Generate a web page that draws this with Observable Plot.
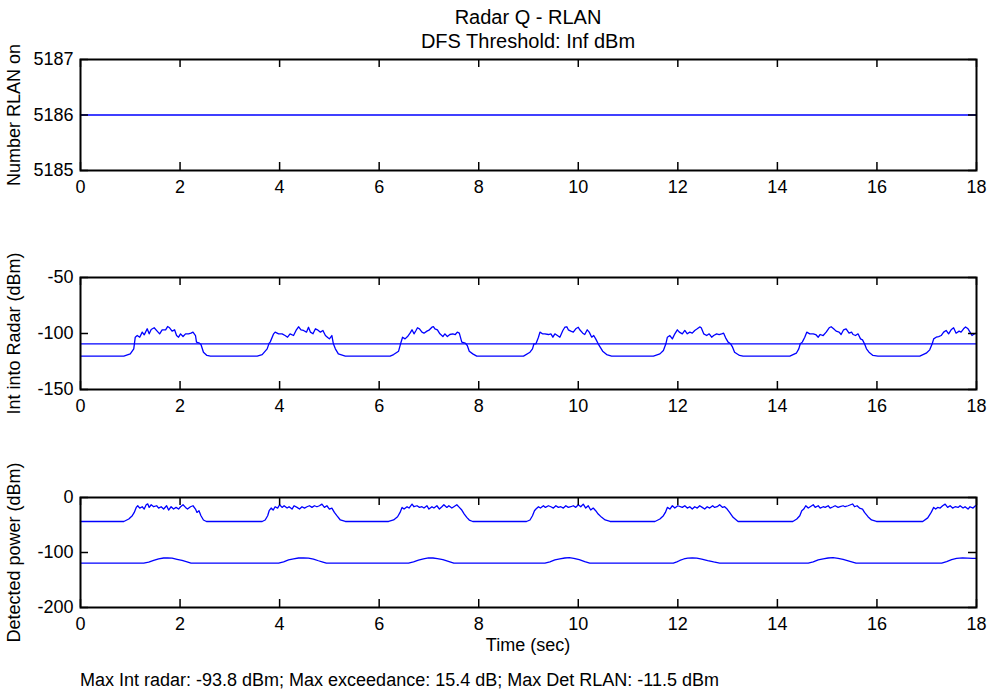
<!DOCTYPE html>
<html>
<head>
<meta charset="utf-8">
<script src="https://cdn.jsdelivr.net/npm/d3@7"></script>
<script src="https://cdn.jsdelivr.net/npm/@observablehq/plot@0.6"></script>
<style>
  body { margin: 0; background: #fff; }
  #fig { position: relative; width: 992px; height: 695px; overflow: hidden;
         font-family: "Liberation Sans", Arial, sans-serif; color: #000; background: #fff; }
  .txt { position: absolute; white-space: nowrap; font-size: 18px; line-height: 18px; }
  .title { font-size: 20px; line-height: 20px; }
  .ctr { transform: translateX(-50%); }
  .panel { position: absolute; left: 0; }
</style>
</head>
<body>
<div id="fig">
  <div class="txt title ctr" style="left:528px; top:7px;">Radar Q - RLAN</div>
  <div class="txt title ctr" style="left:528px; top:31px;">DFS Threshold: Inf dBm</div>
  <div class="txt ctr" style="left:528px; top:636px;">Time (sec)</div>
  <div class="txt" style="left:80px; top:671px;">Max Int radar: -93.8 dBm; Max exceedance: 15.4 dB; Max Det RLAN: -11.5 dBm</div>
</div>
<script>
// time axis ticks (sec)
const timeTicks = [0, 2, 4, 6, 8, 10, 12, 14, 16, 18];

// panel 1: number of RLANs on
const rlanTicks = [5185, 5186, 5187];
const rlanOn = [[0, 5186], [18, 5186]];

// panel 2: interference into the radar (dBm) and the DFS threshold line
const intTicks = [-150, -100, -50];
const dfsThreshold = -109.2;
const intoRadar = [
  [0,-120.2],[0.87,-120.2],[1.00,-118.2],[1.07,-113.7],[1.10,-103.3],[1.14,-101.8],[1.19,-103.3],[1.24,-98.8],[1.28,-101.2],[1.34,-95.8],[1.38,-100.3],[1.42,-96.4],[1.48,-94.9],[1.54,-97.9],[1.59,-100.3],[1.64,-96.7],[1.71,-96.7],[1.75,-93.8],[1.79,-94.9],[1.84,-97.9],[1.89,-96.7],[1.93,-101.8],[1.97,-103.3],[2.01,-100.3],[2.06,-102.7],[2.11,-100.3],[2.17,-100.3],[2.22,-99.7],[2.26,-98.8],[2.31,-101.8],[2.33,-107.7],[2.39,-108.6],[2.42,-109.8],[2.47,-116.7],[2.54,-119.6],[2.61,-120.2],
  [3.55,-120.2],[3.65,-118.8],[3.75,-113.7],[3.79,-108.6],[3.81,-107.7],[3.88,-100.3],[3.91,-98.8],[3.98,-100.3],[4.05,-100.3],[4.11,-101.8],[4.16,-103.3],[4.21,-100.3],[4.28,-101.8],[4.33,-97.3],[4.38,-94.0],[4.43,-96.7],[4.48,-97.3],[4.54,-98.8],[4.58,-94.4],[4.62,-98.8],[4.67,-100.3],[4.72,-95.8],[4.76,-96.7],[4.82,-98.8],[4.87,-97.3],[4.92,-101.8],[4.96,-103.3],[5.00,-104.8],[5.05,-101.8],[5.08,-109.2],[5.12,-113.7],[5.18,-118.2],[5.32,-120.2],
  [6.22,-120.2],[6.29,-118.8],[6.39,-115.8],[6.43,-109.2],[6.47,-103.3],[6.52,-104.8],[6.57,-102.7],[6.62,-99.7],[6.66,-96.7],[6.70,-100.3],[6.74,-97.3],[6.77,-94.9],[6.81,-95.8],[6.86,-98.8],[6.90,-99.7],[6.96,-97.9],[7.01,-96.7],[7.06,-94.4],[7.09,-93.9],[7.12,-95.8],[7.17,-96.7],[7.22,-100.3],[7.28,-102.7],[7.32,-100.3],[7.37,-102.7],[7.42,-100.9],[7.48,-100.3],[7.53,-100.9],[7.57,-98.8],[7.61,-99.7],[7.66,-107.7],[7.73,-108.6],[7.77,-110.7],[7.81,-115.8],[7.88,-118.2],[7.96,-120.2],
  [8.90,-120.2],[9.03,-116.7],[9.08,-113.7],[9.11,-109.2],[9.15,-109.2],[9.20,-103.3],[9.23,-98.8],[9.28,-100.3],[9.33,-100.3],[9.40,-100.9],[9.45,-100.3],[9.49,-103.3],[9.53,-100.3],[9.58,-101.8],[9.63,-103.3],[9.69,-97.3],[9.73,-94.4],[9.77,-94.0],[9.80,-96.7],[9.85,-97.9],[9.90,-98.8],[9.95,-95.8],[10.00,-94.4],[10.03,-96.7],[10.09,-99.7],[10.13,-100.9],[10.18,-96.7],[10.22,-98.8],[10.27,-103.3],[10.31,-101.8],[10.35,-104.8],[10.40,-109.2],[10.44,-112.2],[10.49,-115.8],[10.57,-118.8],[10.67,-120.2],
  [11.51,-120.2],[11.64,-118.2],[11.71,-115.2],[11.76,-109.2],[11.79,-103.3],[11.84,-101.8],[11.89,-104.8],[11.94,-100.3],[11.99,-96.7],[12.03,-98.8],[12.09,-100.3],[12.14,-97.3],[12.19,-100.3],[12.24,-98.8],[12.29,-99.7],[12.34,-97.3],[12.39,-95.8],[12.44,-94.1],[12.47,-94.9],[12.52,-100.3],[12.58,-101.8],[12.63,-100.3],[12.68,-103.3],[12.72,-101.8],[12.78,-100.3],[12.83,-100.9],[12.88,-100.3],[12.92,-99.7],[12.96,-103.9],[13.01,-107.7],[13.06,-109.2],[13.10,-112.2],[13.14,-116.7],[13.24,-119.6],[13.31,-120.2],
  [14.25,-120.2],[14.38,-117.6],[14.43,-113.7],[14.46,-109.2],[14.50,-107.7],[14.55,-103.3],[14.59,-98.8],[14.65,-100.3],[14.72,-100.3],[14.77,-100.9],[14.82,-103.3],[14.86,-100.9],[14.92,-101.8],[14.98,-98.8],[15.04,-94.9],[15.08,-94.0],[15.13,-95.8],[15.18,-97.9],[15.24,-98.8],[15.28,-100.9],[15.33,-96.7],[15.38,-95.8],[15.44,-99.7],[15.49,-98.8],[15.52,-100.9],[15.57,-101.8],[15.62,-100.3],[15.67,-104.8],[15.71,-105.7],[15.75,-109.2],[15.79,-113.7],[15.84,-116.7],[15.92,-119.6],[16.02,-120.2],
  [16.86,-120.2],[16.99,-117.6],[17.06,-114.6],[17.11,-109.2],[17.14,-104.8],[17.19,-103.3],[17.24,-102.7],[17.29,-101.8],[17.34,-98.8],[17.39,-97.3],[17.44,-100.3],[17.49,-96.7],[17.54,-94.9],[17.59,-99.7],[17.65,-97.9],[17.69,-98.8],[17.74,-95.8],[17.78,-94.2],[17.83,-95.8],[17.87,-98.8],[17.91,-101.8],[17.96,-100.3],[18.00,-99.7]
];

// panel 3: detected power (dBm), RLAN detection and radar side
const detTicks = [-200, -100, 0];
const detectedRlan = [
  [0,-43.6],[0.87,-43.6],[0.97,-39.1],[1.04,-33.1],[1.08,-27.1],[1.12,-18.0],[1.15,-15.0],[1.19,-19.2],[1.24,-16.8],[1.28,-21.0],[1.32,-13.2],[1.35,-11.5],[1.38,-18.0],[1.42,-13.2],[1.47,-16.8],[1.53,-15.0],[1.57,-19.2],[1.62,-16.8],[1.67,-21.0],[1.73,-15.0],[1.77,-22.8],[1.82,-16.8],[1.87,-21.0],[1.92,-18.0],[1.97,-21.0],[2.01,-16.8],[2.06,-13.2],[2.11,-18.0],[2.15,-21.0],[2.21,-16.8],[2.26,-15.0],[2.31,-21.0],[2.34,-27.1],[2.38,-24.0],[2.42,-33.1],[2.47,-40.9],[2.53,-43.6],
  [3.65,-43.6],[3.71,-40.9],[3.76,-33.1],[3.79,-24.0],[3.83,-19.2],[3.87,-22.8],[3.91,-16.8],[3.96,-19.2],[4.00,-13.2],[4.05,-18.0],[4.09,-15.0],[4.15,-19.2],[4.19,-16.8],[4.25,-21.0],[4.29,-15.0],[4.35,-18.0],[4.40,-21.0],[4.45,-16.8],[4.50,-19.2],[4.55,-16.8],[4.60,-15.0],[4.65,-18.0],[4.70,-15.0],[4.75,-16.8],[4.80,-15.0],[4.85,-12.0],[4.90,-18.0],[4.95,-15.0],[5.00,-21.0],[5.05,-19.2],[5.10,-27.1],[5.15,-33.1],[5.22,-40.9],[5.32,-43.6],
  [6.19,-43.6],[6.29,-40.9],[6.37,-35.0],[6.42,-27.1],[6.46,-18.0],[6.50,-21.0],[6.56,-16.8],[6.60,-19.2],[6.66,-12.0],[6.70,-16.8],[6.76,-15.0],[6.81,-18.0],[6.86,-16.8],[6.90,-19.2],[6.96,-15.0],[7.00,-21.0],[7.06,-16.8],[7.10,-19.2],[7.16,-15.0],[7.21,-21.0],[7.26,-16.8],[7.30,-13.2],[7.36,-18.0],[7.40,-15.0],[7.46,-19.2],[7.50,-16.8],[7.56,-13.2],[7.61,-18.0],[7.66,-22.8],[7.71,-30.1],[7.76,-36.1],[7.81,-41.0],[7.88,-43.6],
  [8.96,-43.6],[9.03,-40.9],[9.08,-33.1],[9.12,-24.0],[9.15,-21.0],[9.20,-16.8],[9.24,-19.2],[9.30,-15.0],[9.34,-18.0],[9.40,-15.0],[9.45,-16.8],[9.50,-19.2],[9.55,-15.0],[9.60,-18.0],[9.65,-16.8],[9.70,-19.2],[9.75,-15.0],[9.80,-18.0],[9.85,-16.8],[9.90,-15.0],[9.95,-18.0],[10.00,-13.2],[10.05,-16.8],[10.10,-12.0],[10.15,-19.2],[10.20,-15.0],[10.25,-22.8],[10.30,-19.2],[10.35,-24.0],[10.40,-30.1],[10.47,-36.1],[10.54,-40.9],[10.64,-43.6],
  [11.54,-43.6],[11.64,-39.1],[11.71,-33.1],[11.75,-27.1],[11.79,-18.0],[11.84,-21.0],[11.89,-15.0],[11.94,-19.2],[12.00,-15.0],[12.09,-18.0],[12.14,-15.0],[12.19,-19.2],[12.24,-16.8],[12.29,-21.0],[12.34,-16.8],[12.39,-19.2],[12.44,-15.0],[12.49,-18.0],[12.54,-21.0],[12.59,-16.8],[12.64,-19.2],[12.70,-15.0],[12.74,-18.0],[12.79,-16.8],[12.84,-13.2],[12.90,-18.0],[12.94,-16.8],[12.99,-21.0],[13.04,-27.1],[13.11,-36.1],[13.21,-43.6],
  [14.31,-43.6],[14.39,-39.1],[14.45,-33.1],[14.49,-24.0],[14.53,-21.0],[14.57,-15.0],[14.62,-19.2],[14.66,-16.8],[14.72,-13.2],[14.76,-18.0],[14.82,-15.0],[14.86,-19.2],[14.92,-16.8],[14.96,-18.0],[15.02,-15.0],[15.06,-19.2],[15.12,-16.8],[15.16,-15.0],[15.22,-18.0],[15.26,-16.8],[15.32,-15.0],[15.36,-16.8],[15.42,-15.0],[15.47,-13.2],[15.51,-11.8],[15.55,-16.8],[15.60,-15.0],[15.65,-19.2],[15.71,-21.0],[15.75,-27.1],[15.82,-34.9],[15.89,-40.9],[15.99,-43.6],
  [16.92,-43.6],[17.02,-37.0],[17.09,-27.1],[17.14,-18.0],[17.18,-21.0],[17.22,-18.0],[17.27,-19.2],[17.32,-15.0],[17.37,-12.0],[17.42,-18.0],[17.47,-15.0],[17.52,-19.2],[17.57,-16.8],[17.63,-18.0],[17.67,-15.0],[17.73,-19.2],[17.77,-16.8],[17.83,-21.0],[17.87,-16.8],[17.93,-19.2],[17.98,-15.0],[18.00,-14.0]
];
const detectedRadar = [
  [0,-119.3],[1.27,-119.3],[1.37,-117.5],[1.47,-114.5],[1.57,-111.5],[1.67,-110.0],[1.75,-109.6],[1.84,-110.3],[1.94,-112.5],[2.04,-114.5],[2.14,-117.0],[2.22,-119.3],
  [3.98,-119.3],[4.08,-117.0],[4.18,-113.5],[4.28,-111.5],[4.38,-110.0],[4.48,-109.6],[4.58,-110.3],[4.68,-112.0],[4.78,-115.0],[4.87,-117.5],[4.94,-119.3],
  [6.59,-119.3],[6.69,-117.0],[6.79,-114.0],[6.89,-111.5],[6.99,-109.8],[7.08,-110.0],[7.17,-111.0],[7.28,-113.0],[7.39,-116.0],[7.50,-119.3],
  [9.33,-119.3],[9.43,-117.0],[9.53,-113.5],[9.63,-111.5],[9.73,-110.0],[9.82,-109.5],[9.91,-110.5],[10.02,-113.0],[10.13,-116.5],[10.23,-119.3],
  [11.91,-119.3],[11.98,-117.0],[12.04,-114.5],[12.12,-111.8],[12.20,-110.2],[12.29,-109.6],[12.38,-110.3],[12.48,-112.0],[12.60,-114.8],[12.72,-117.2],[12.84,-119.3],
  [14.62,-119.3],[14.72,-117.0],[14.82,-113.5],[14.92,-111.5],[15.02,-110.0],[15.12,-109.4],[15.22,-110.5],[15.32,-112.5],[15.44,-115.5],[15.58,-119.3],
  [17.30,-119.3],[17.40,-116.5],[17.50,-113.0],[17.60,-110.8],[17.72,-109.6],[17.82,-110.2],[17.92,-110.8],[18.00,-110.6]
];

const FONT = "Liberation Sans, Arial, sans-serif";
const LINE = "#0000ff";
const FIG_W = 992, M_LEFT = 80, M_RIGHT = 16, M_TOP = 10, M_BOTTOM = 30;
const innerW = FIG_W - M_LEFT - M_RIGHT;
const TICK = 8;
const fmt = d => String(d);

function panel({top, innerH, yDomain, yTicks, label, lines, rules = []}) {
  const tickStyle = {stroke: "#000", strokeWidth: 1.5};
  const svg = Plot.plot({
    width: FIG_W,
    height: innerH + M_TOP + M_BOTTOM,
    marginLeft: M_LEFT, marginRight: M_RIGHT, marginTop: M_TOP, marginBottom: M_BOTTOM,
    style: {fontFamily: FONT, fontSize: "18px", background: "transparent", color: "#000", overflow: "visible"},
    x: {domain: [0, 18]},
    y: {domain: yDomain},
    marks: [
      ...rules.map(v => Plot.ruleY([v], {stroke: LINE, strokeWidth: 1.3})),
      ...lines.map(s => Plot.line(s, {x: d => d[0], y: d => d[1], stroke: LINE, strokeWidth: 1.3})),
      // inward ticks on all four sides
      Plot.ruleX(timeTicks, {insetBottom: innerH - TICK, ...tickStyle}),
      Plot.ruleX(timeTicks, {insetTop: innerH - TICK, ...tickStyle}),
      Plot.ruleY(yTicks, {insetRight: innerW - TICK, ...tickStyle}),
      Plot.ruleY(yTicks, {insetLeft: innerW - TICK, ...tickStyle}),
      Plot.frame({stroke: "#000", strokeWidth: 2}),
      Plot.axisX(timeTicks, {tickSize: 0, tickPadding: 10, tickFormat: fmt, label: null}),
      Plot.axisY(yTicks, {tickSize: 0, tickPadding: 7, tickFormat: fmt, label: null}),
      Plot.text([label], {frameAnchor: "left", dx: -66, rotate: -90, textAnchor: "middle",
                          lineAnchor: "middle", fontSize: 18, fill: "#000"})
    ]
  });
  svg.classList.add("panel");
  svg.style.top = top + "px";
  document.getElementById("fig").appendChild(svg);
}

panel({top: 49, innerH: 111, yDomain: [5185, 5187], yTicks: rlanTicks,
       label: "Number RLAN on", lines: [rlanOn]});
panel({top: 267, innerH: 112, yDomain: [-150, -50], yTicks: intTicks,
       label: "Int into Radar (dBm)", lines: [intoRadar], rules: [dfsThreshold]});
panel({top: 487, innerH: 110, yDomain: [-200, 0], yTicks: detTicks,
       label: "Detected power (dBm)", lines: [detectedRlan, detectedRadar]});
</script>
</body>
</html>
